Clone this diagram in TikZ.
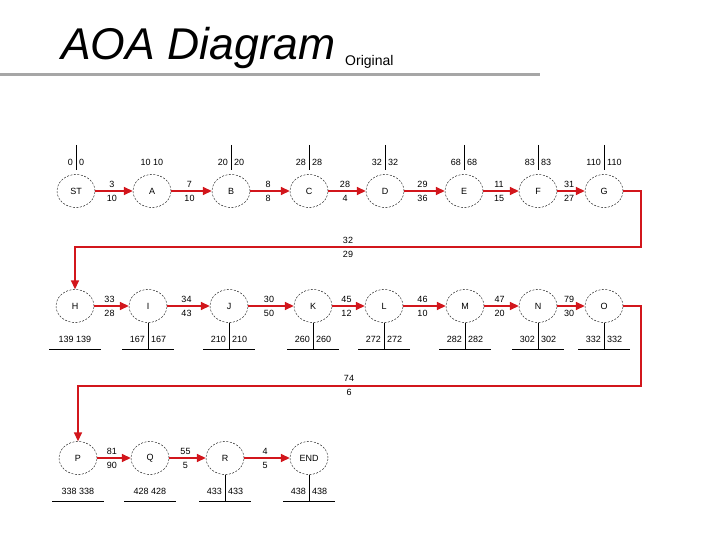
\documentclass[tikz,border=0pt]{standalone}
\usepackage{fontspec}
\setmainfont{Liberation Sans}
\usetikzlibrary{arrows.meta,shapes.geometric}
\definecolor{arrred}{RGB}{210,22,28}
\begin{document}
\begin{tikzpicture}[x=1pt,y=-1pt,
  ev/.style={ellipse,draw,dash pattern=on 2pt off 1.5pt,minimum width=38pt,minimum height=33pt,inner sep=0pt,font=\fontsize{9}{9}\selectfont},
  num/.style={inner sep=0pt,font=\fontsize{9}{9}\selectfont},
  arr/.style={draw=arrred,line width=1.5pt,-{Triangle[length=9pt,width=8pt]},arrred},
  tick/.style={draw,line width=0.6pt},
  lab/.style={num,midway}]
\useasboundingbox (0,0) rectangle (720,540);
% title
\node[anchor=base west,inner sep=0pt,font=\fontsize{44.5}{44.5}\selectfont\itshape] (title) at (61,60) {AOA Diagram};
\node[anchor=base west,inner sep=0pt,font=\fontsize{14}{14}\selectfont] (orig) at (345,66) {Original};
\draw[line width=3pt,gray!70] (0,75) -- (540,75);
% row 1
\foreach \n/\x/\t in {ST/76/ST,A/152/A,B/231/B,C/309/C,D/385/D,E/464/E,F/538/F,G/604/G}
  \node[ev] (\n) at (\x,191) {\t};
% row 2
\foreach \n/\x in {H/75,I/148,J/229,K/313,L/384,M/465,N/538,O/604}
  \node[ev] (\n) at (\x,306) {\n};
% row 3
\foreach \n/\x in {P/78,Q/150,R/225,END/309}
  \node[ev] (\n) at (\x,458) {\n};
% top event times, row 1
\foreach \n/\v in {ST/0,B/20,C/28,D/32,E/68,F/83,G/110}{
  \coordinate (\n-t1) at ([yshift=46pt]\n.center);
  \coordinate (\n-t2) at ([yshift=21pt]\n.center);
  \draw[tick] (\n-t1) -- (\n-t2);
  \node[num,anchor=east] (\n-el) at ([xshift=-3pt,yshift=29pt]\n.center) {\v};
  \node[num,anchor=west] (\n-ll) at ([xshift=3pt,yshift=29pt]\n.center) {\v};
}
\node[num] (A-el) at ([yshift=29pt]A.center) {10 10};
% bottom event times, rows 2 and 3
\foreach \n/\v in {I/167,J/210,K/260,L/272,M/282,N/302,O/332,R/433,END/438}{
  \coordinate (\n-b1) at (\n.south);
  \coordinate (\n-b2) at ([yshift=-43pt]\n.center);
  \draw[tick] (\n-b1) -- (\n-b2);
  \node[num,anchor=east] (\n-el) at ([xshift=-3pt,yshift=-33pt]\n.center) {\v};
  \node[num,anchor=west] (\n-ll) at ([xshift=3pt,yshift=-33pt]\n.center) {\v};
}
\foreach \n/\v in {H/139,P/338,Q/428}
  \node[num] (\n-el) at ([yshift=-33pt]\n.center) {\v\ \v};
\foreach \n in {H,I,J,K,L,M,N,O,P,Q,R,END}{
  \coordinate (\n-h1) at ([xshift=-26pt,yshift=-43pt]\n.center);
  \coordinate (\n-h2) at ([xshift=26pt,yshift=-43pt]\n.center);
  \draw[tick] (\n-h1) -- (\n-h2);
}
% activities
\foreach \a/\b/\p/\q in {ST/A/3/10,A/B/7/10,B/C/8/8,C/D/28/4,D/E/29/36,E/F/11/15,F/G/31/27,
  H/I/33/28,I/J/34/43,J/K/30/50,K/L/45/12,L/M/46/10,M/N/47/20,N/O/79/30,
  P/Q/81/90,Q/R/55/5,R/END/4/5}
  \draw[arr] (\a.east) -- (\b.west)
    node[lab,yshift=7pt,xshift=-2pt,text=black] (\a-\b-p) {\p}
    node[lab,yshift=-7pt,xshift=-2pt,text=black] (\a-\b-q) {\q};
% return connectors
\coordinate (gh1) at (641,191);
\coordinate (gh2) at (641,247);
\coordinate (gh3) at (75,247);
\draw[arr] (G.east) -- (gh1) -- (gh2) -- (gh3) -- (H.north);
\node[num] (G-H-p) at (348,240) {32};
\node[num] (G-H-q) at (348,254) {29};
\coordinate (op1) at (641,306);
\coordinate (op2) at (641,386);
\coordinate (op3) at (78,386);
\draw[arr] (O.east) -- (op1) -- (op2) -- (op3) -- (P.north);
\node[num] (O-P-p) at (349,378) {74};
\node[num] (O-P-q) at (349,392) {6};
\end{tikzpicture}
\end{document}
